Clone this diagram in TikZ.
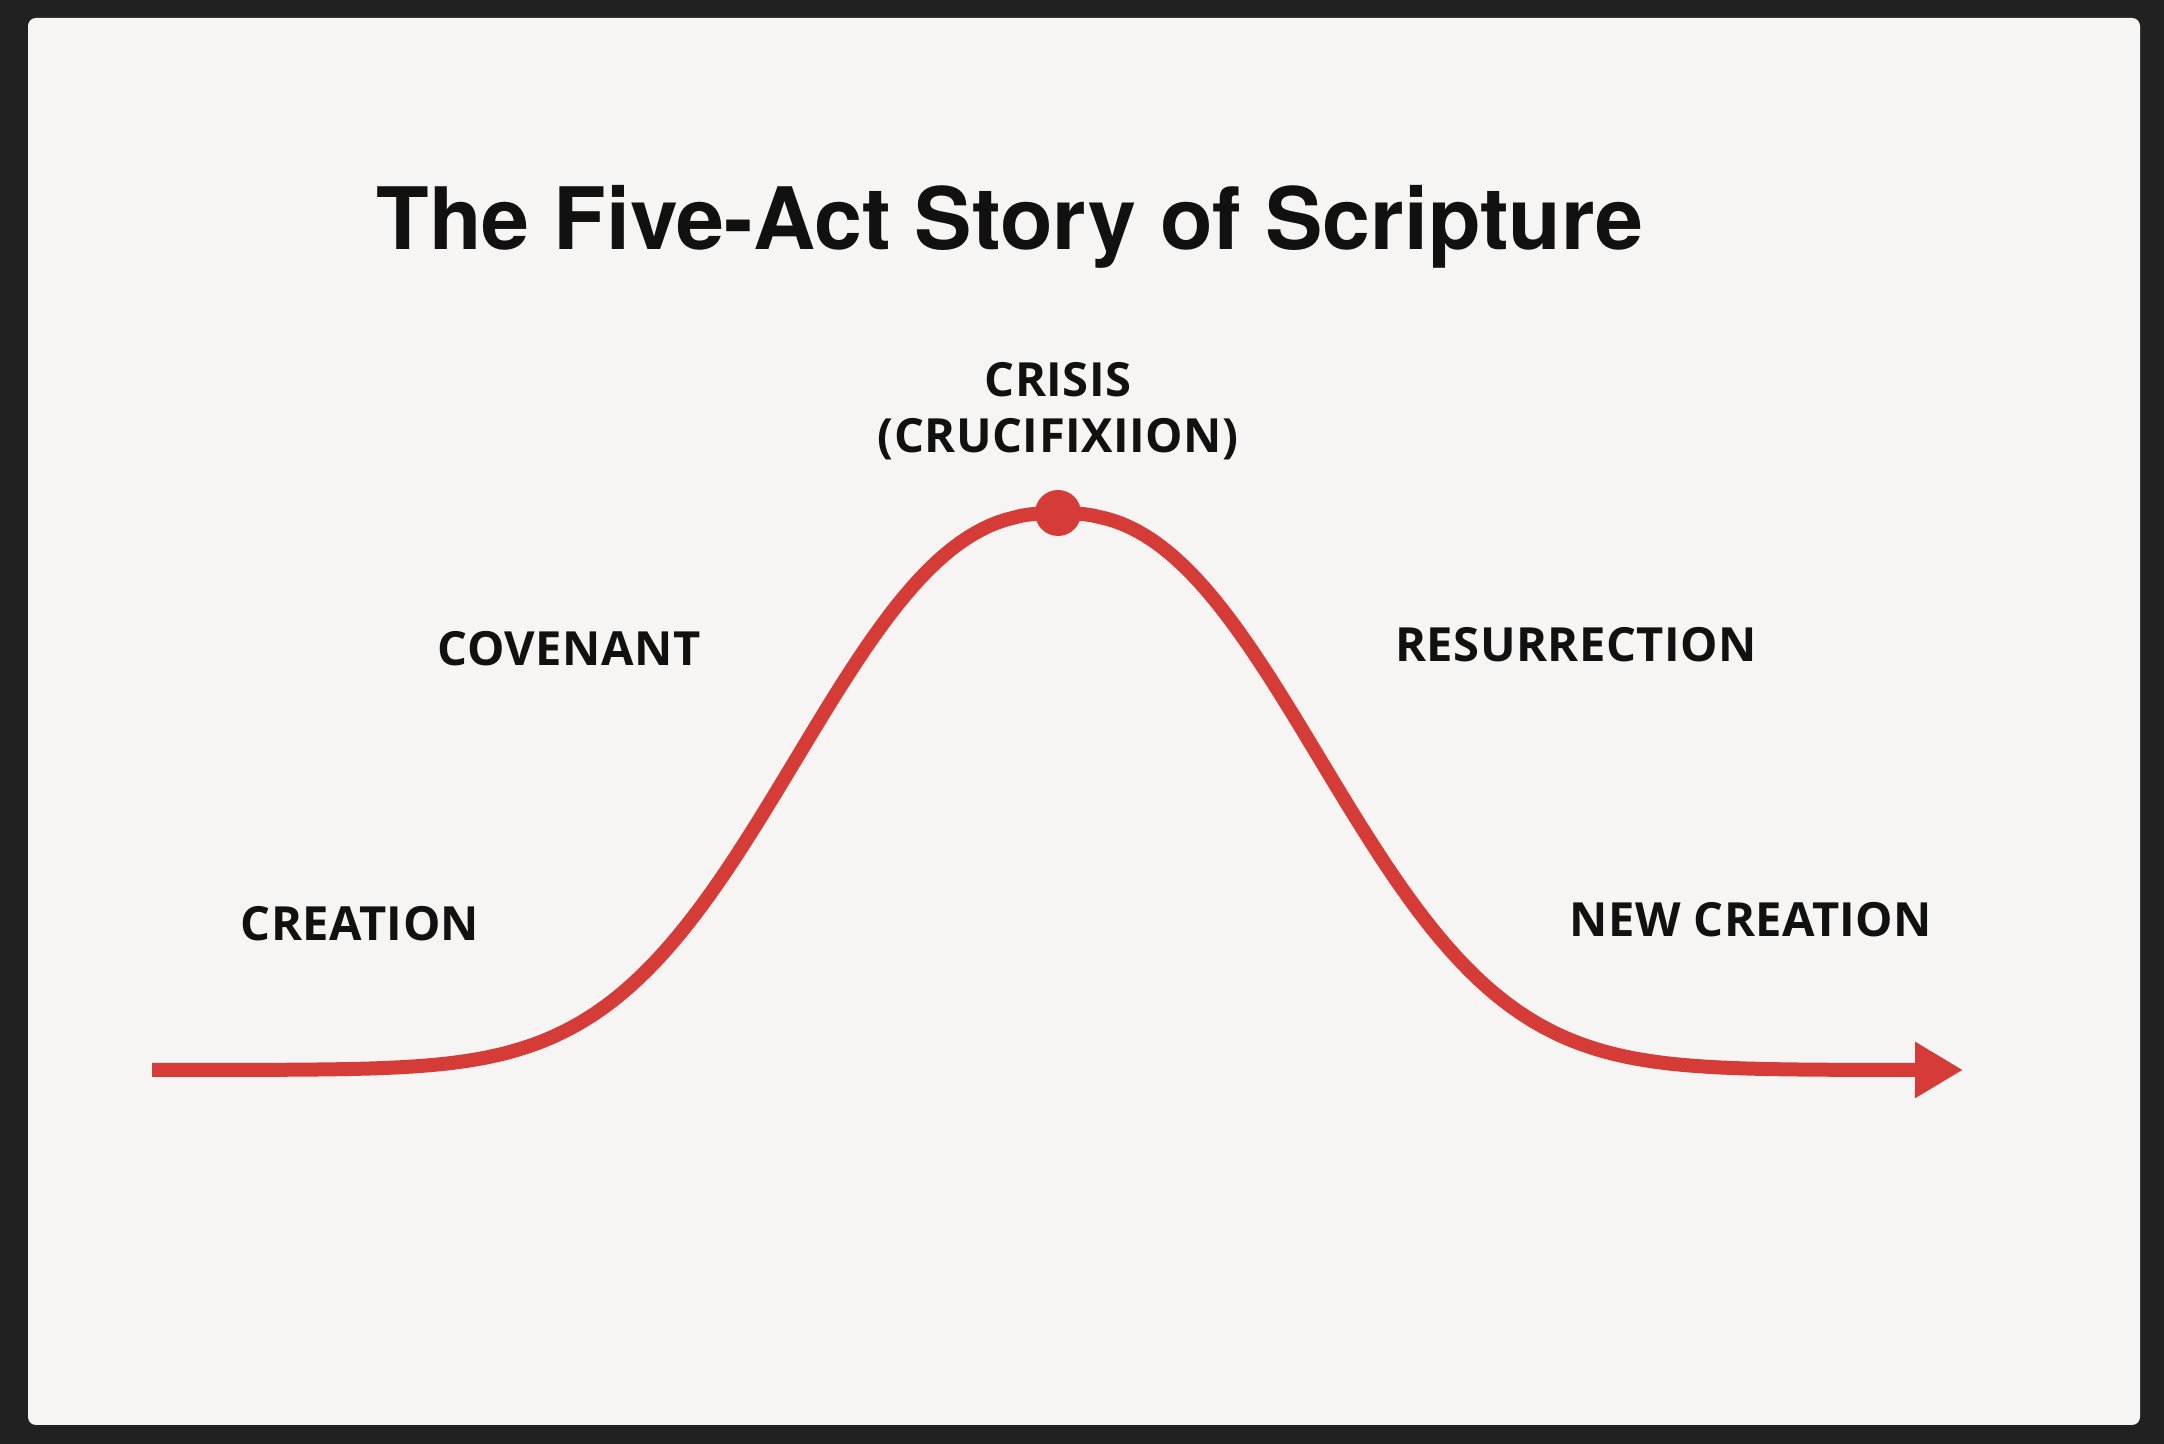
\documentclass[tikz,border=0pt]{standalone}
\usepackage{fontspec}
\usepackage{xcolor}
\usepackage{tikz}
\usetikzlibrary{arrows.meta}
\setmainfont{Open Sans}
\newfontfamily\titlefont{TeX Gyre Heros}
\newfontfamily\actfont{Open Sans}[LetterSpace=1]
\definecolor{SkFrame}{HTML}{212121}
\definecolor{SkCard}{HTML}{F6F5F3}
\definecolor{SkRed}{HTML}{D53C37}
\definecolor{SkInk}{HTML}{111111}

\tikzset{
  actlabel/.style={anchor=base,inner sep=0pt,text=SkInk,font=\actfont\bfseries\fontsize{13.4}{16}\selectfont},
}

\begin{document}
\begin{tikzpicture}[x=1cm,y=1cm]
\path[use as bounding box] (0,0) rectangle (21.64,14.44);
\fill[SkFrame] (0,0) rectangle (21.64,14.44);
\fill[SkCard,rounded corners=0.08cm] (0.28,0.19) rectangle (21.40,14.26);
% title
\node[anchor=base,inner sep=0pt,text=SkInk,font=\titlefont\bfseries\fontsize{24.5}{30}\selectfont] (title) at (10.10,11.94) {The Five-Act Story of Scripture};
% the story line
\coordinate (tip) at (19.63,3.74);
\draw[SkRed,line width=0.14cm,-{Triangle[length=0.48cm,width=0.53cm]}]
  plot[domain=1.52:18.60,samples=221] (\x,{3.74+5.57*exp(-((abs(\x-10.58)+0.001)/3.28)^2.4)}) -- (tip);
\node[circle,fill=SkRed,minimum size=0.46cm,inner sep=0pt] (peak) at (10.58,9.31) {};
% acts
\node[actlabel] (creation) at (3.60,5.03) {CREATION};
\node[actlabel] (covenant) at (5.69,7.78) {COVENANT};
\node[actlabel] (crisis) at (10.58,10.47) {CRISIS};
\node[actlabel] (crucifixion) at (10.58,9.91) {(CRUCIFIXIION)};
\node[actlabel] (resurrection) at (15.76,7.82) {RESURRECTION};
\node[actlabel] (newcreation) at (17.51,5.07) {NEW CREATION};
\end{tikzpicture}
\end{document}
